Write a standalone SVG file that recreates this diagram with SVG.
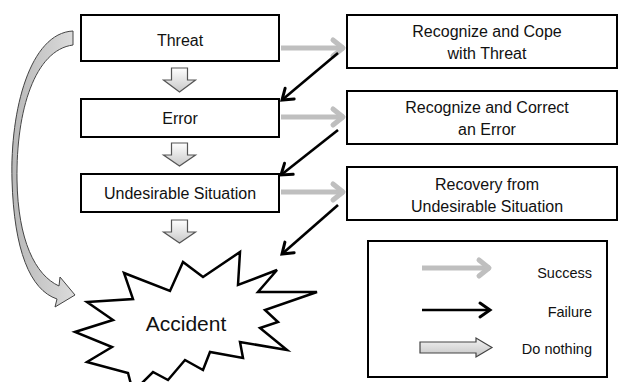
<svg xmlns="http://www.w3.org/2000/svg" width="619" height="382" viewBox="0 0 619 382">
<defs>
<linearGradient id="gdown" x1="0" y1="0" x2="0" y2="1"><stop offset="0" stop-color="#ffffff"/><stop offset="1" stop-color="#c8c8c8"/></linearGradient>
<linearGradient id="gright" x1="0" y1="0" x2="0" y2="1"><stop offset="0" stop-color="#f4f4f4"/><stop offset="1" stop-color="#c4c4c4"/></linearGradient>
<linearGradient id="gcurve" x1="0" y1="0" x2="1" y2="0"><stop offset="0" stop-color="#b8b8b8"/><stop offset="1" stop-color="#dcdcdc"/></linearGradient>
<marker id="mgray" markerUnits="userSpaceOnUse" markerWidth="30" markerHeight="30" viewBox="-15 -15 30 30" refX="0" refY="0" orient="auto">
<path d="M -11,-8 L -1,0 L -11,8" fill="none" stroke="#bfbfbf" stroke-width="5" stroke-linecap="round" stroke-linejoin="round"/>
</marker>
<marker id="mblack" markerUnits="userSpaceOnUse" markerWidth="30" markerHeight="30" viewBox="-15 -15 30 30" refX="0" refY="0" orient="auto">
<path d="M -10,-7 L 0,0 L -10,7" fill="none" stroke="#000" stroke-width="3" stroke-linecap="round" stroke-linejoin="miter"/>
</marker>
<style>
.box{fill:#fff;stroke:#000;stroke-width:2}
.lbl{font-family:"Liberation Sans",Arial,sans-serif;font-size:16px;fill:#111;text-anchor:middle}
.leg{font-family:"Liberation Sans",Arial,sans-serif;font-size:14.5px;fill:#111;text-anchor:end}
.succ{stroke:#bfbfbf;stroke-width:5;fill:none}
.fail{stroke:#000;stroke-width:2.6;fill:none}
.blk{fill:url(#gdown);stroke:#555;stroke-width:1.2;stroke-linejoin:miter}
</style>
</defs>
<rect x="0" y="0" width="619" height="382" fill="#fff"/>

<g id="threat"><rect class="box" x="81" y="15" width="198" height="46"/><text class="lbl" x="180" y="46">Threat</text></g>
<g id="error"><rect class="box" x="81" y="99" width="198" height="38"/><text class="lbl" x="180" y="124">Error</text></g>
<g id="undesirable"><rect class="box" x="81" y="174" width="198" height="38"/><text class="lbl" x="180" y="199">Undesirable Situation</text></g>

<g id="cope"><rect class="box" x="347" y="15" width="270" height="53"/><text class="lbl" x="487" y="37">Recognize and Cope</text><text class="lbl" x="487" y="59">with Threat</text></g>
<g id="correct"><rect class="box" x="347" y="91" width="270" height="53"/><text class="lbl" x="487" y="113">Recognize and Correct</text><text class="lbl" x="487" y="135">an Error</text></g>
<g id="recovery"><rect class="box" x="347" y="167" width="270" height="53"/><text class="lbl" x="487" y="190">Recovery from</text><text class="lbl" x="487" y="212">Undesirable Situation</text></g>

<g id="accident">
<path d="M 240,342 L 243,358 L 210,352 L 203,370 L 185,360 L 168,380 L 153,372 L 133,392 L 128,373 L 87,362 L 112,347 L 75,332 L 113,320 L 87,302 L 133,299 L 124,273 L 170,291 L 183,262 L 203,277 L 240,252 L 238,285 L 277,270 L 258,292 L 317,292 L 265,310 L 278,322 L 260,328 L 287,350 Z" fill="#fff" stroke="#000" stroke-width="2.5" stroke-linejoin="miter"/>
<text x="186" y="331" font-family="Liberation Sans, Arial, sans-serif" font-size="21" fill="#111" text-anchor="middle">Accident</text>
</g>

<g id="legend">
<rect x="368" y="241" width="239" height="136" fill="#fff" stroke="#000" stroke-width="2"/>
<line class="succ" x1="422" y1="268" x2="490" y2="268" marker-end="url(#mgray)"/>
<text class="leg" x="592" y="278">Success</text>
<line class="fail" x1="422" y1="310" x2="490" y2="310" marker-end="url(#mblack)"/>
<text class="leg" x="592" y="317">Failure</text>
<path d="M 420,342 H 476 V 338 L 492,347.5 L 476,357 V 353 H 420 Z" fill="url(#gright)" stroke="#444" stroke-width="1.2"/>
<text class="leg" x="592" y="354">Do nothing</text>
</g>

<g id="connectors">
<line class="succ" x1="281" y1="48" x2="344" y2="48" marker-end="url(#mgray)"/>
<line class="succ" x1="281" y1="117" x2="344" y2="117" marker-end="url(#mgray)"/>
<line class="succ" x1="281" y1="192" x2="344" y2="192" marker-end="url(#mgray)"/>
<line class="fail" x1="338" y1="53" x2="282" y2="100" marker-end="url(#mblack)"/>
<line class="fail" x1="338" y1="130" x2="281" y2="175" marker-end="url(#mblack)"/>
<line class="fail" x1="338" y1="205" x2="282" y2="254" marker-end="url(#mblack)"/>
<path class="blk" d="M 171.5,68 H 187.5 V 80 H 195.5 L 179.5,92 L 163.5,80 H 171.5 Z"/>
<path class="blk" d="M 171.5,143 H 187.5 V 155 H 195.5 L 179.5,166 L 163.5,155 H 171.5 Z"/>
<path class="blk" d="M 171.5,220 H 187.5 V 232 H 195.5 L 179.5,243 L 163.5,232 H 171.5 Z"/>
<path d="M 73,31 C 30,33 10,110 12,180 C 14,250 30,290 57,299 L 55,307 L 75,295 L 60,277 L 59,286 C 35,275 18,240 17,180 C 16,110 35,50 73,45 Z" fill="url(#gcurve)" stroke="#444" stroke-width="1"/>
</g>
</svg>
